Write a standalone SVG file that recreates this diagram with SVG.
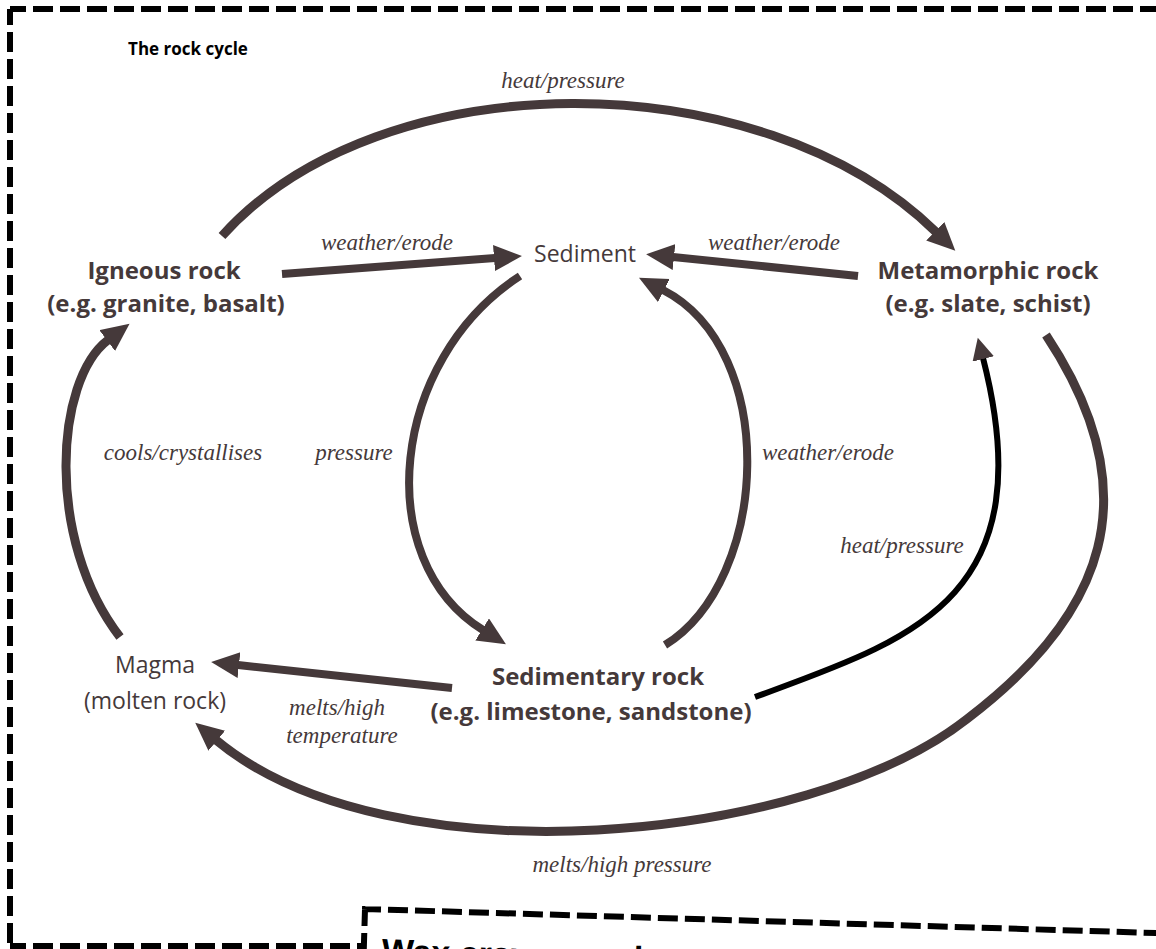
<svg xmlns="http://www.w3.org/2000/svg" width="1156" height="949" viewBox="0 0 1156 949">
<style>
.frame{fill:none;stroke:#000;stroke-width:6;stroke-dasharray:20 7;stroke-dashoffset:4}
.arc{fill:none;stroke:#45393a;stroke-width:9}
.ln{fill:none;stroke:#45393a;stroke-width:8}
.blk{fill:none;stroke:#000;stroke-width:6}
.lbl{font-family:"Liberation Serif",serif;font-style:italic;font-size:23px;fill:#45393a;text-anchor:middle}
.nb{font-family:"Open Sans","Noto Sans",sans-serif;font-weight:700;font-size:24px;fill:#45393a;text-anchor:middle}
.nr{font-family:"Open Sans","Noto Sans",sans-serif;font-size:23px;fill:#45393a;text-anchor:middle}
.title{font-family:"Open Sans","Noto Sans",sans-serif;font-weight:700;font-size:17px;fill:#000;text-anchor:middle}
</style>
<defs>
<marker id="ah" markerUnits="userSpaceOnUse" markerWidth="30" markerHeight="28" viewBox="0 0 30 28" refX="1" refY="13" orient="auto">
<path d="M0,0 L28,13 L0,26 z" fill="#45393a"/>
</marker>
<marker id="ahb" markerUnits="userSpaceOnUse" markerWidth="24" markerHeight="24" viewBox="0 0 24 24" refX="1" refY="11" orient="auto">
<path d="M0,0 L22,11 L0,22 z" fill="#45393a"/>
</marker>
</defs>
<rect width="1156" height="949" fill="#fff"/>
<g id="frame">
<line class="frame" x1="10" y1="9" x2="1170" y2="9"/>
<line class="frame" x1="10" y1="9" x2="10" y2="946"/>
<line class="frame" x1="10" y1="946" x2="400" y2="946"/>
</g>
<text id="title" class="title" x="188" y="55">The rock cycle</text>
<g id="connectors">
<path class="arc" d="M222 236 C380 60 760 60 936 232" marker-end="url(#ah)"/>
<path class="ln" d="M282 274 L495 258" marker-end="url(#ah)"/>
<path class="ln" d="M858 276 L673 257" marker-end="url(#ah)"/>
<path class="ln" d="M520 276 C390 360 370 560 483 630" marker-end="url(#ah)"/>
<path class="ln" d="M665 645 C770 580 780 350 663 290" marker-end="url(#ah)"/>
<path class="arc" d="M120 637 C45 540 55 380 108 340" marker-end="url(#ah)"/>
<path class="ln" d="M452 688 L238 665" marker-end="url(#ah)"/>
<path class="blk" d="M755 697 C910 640 1045 600 983 358" marker-end="url(#ahb)"/>
<path class="arc" d="M1046 335 C1152 495 1104 615 967 719 C809 843 389 884 216 740" marker-end="url(#ah)"/>
</g>
<g id="labels">
<text class="lbl" x="563" y="88">heat/pressure</text>
<text class="lbl" x="387" y="250">weather/erode</text>
<text class="lbl" x="774" y="250">weather/erode</text>
<text class="lbl" x="183" y="460">cools/crystallises</text>
<text class="lbl" x="354" y="460">pressure</text>
<text class="lbl" x="828" y="460">weather/erode</text>
<text class="lbl" x="902" y="553">heat/pressure</text>
<text class="lbl" x="337" y="715">melts/high</text>
<text class="lbl" x="342" y="743">temperature</text>
<text class="lbl" x="622" y="872">melts/high pressure</text>
</g>
<g id="igneous">
<text class="nb" x="164" y="279">Igneous rock</text>
<text class="nb" x="166" y="312">(e.g. granite, basalt)</text>
</g>
<g id="sediment">
<text class="nr" x="585" y="262">Sediment</text>
</g>
<g id="metamorphic">
<text class="nb" x="988" y="279">Metamorphic rock</text>
<text class="nb" x="988" y="312">(e.g. slate, schist)</text>
</g>
<g id="magma">
<text class="nr" x="155" y="673">Magma</text>
<text class="nr" x="155" y="709">(molten rock)</text>
</g>
<g id="sedimentary">
<text class="nb" x="598" y="685">Sedimentary rock</text>
<text class="nb" x="591" y="720">(e.g. limestone, sandstone)</text>
</g>
<g id="wax-crayon" transform="rotate(1.74 365 909)">
<rect x="365" y="909" width="900" height="200" fill="#fff" stroke="#000" stroke-width="6" stroke-dasharray="20 7" stroke-dashoffset="4"/>
<text x="383" y="962" font-family="Liberation Sans, sans-serif" font-weight="700" font-size="34" fill="#000">Wax crayon rock</text>
</g>
</svg>
